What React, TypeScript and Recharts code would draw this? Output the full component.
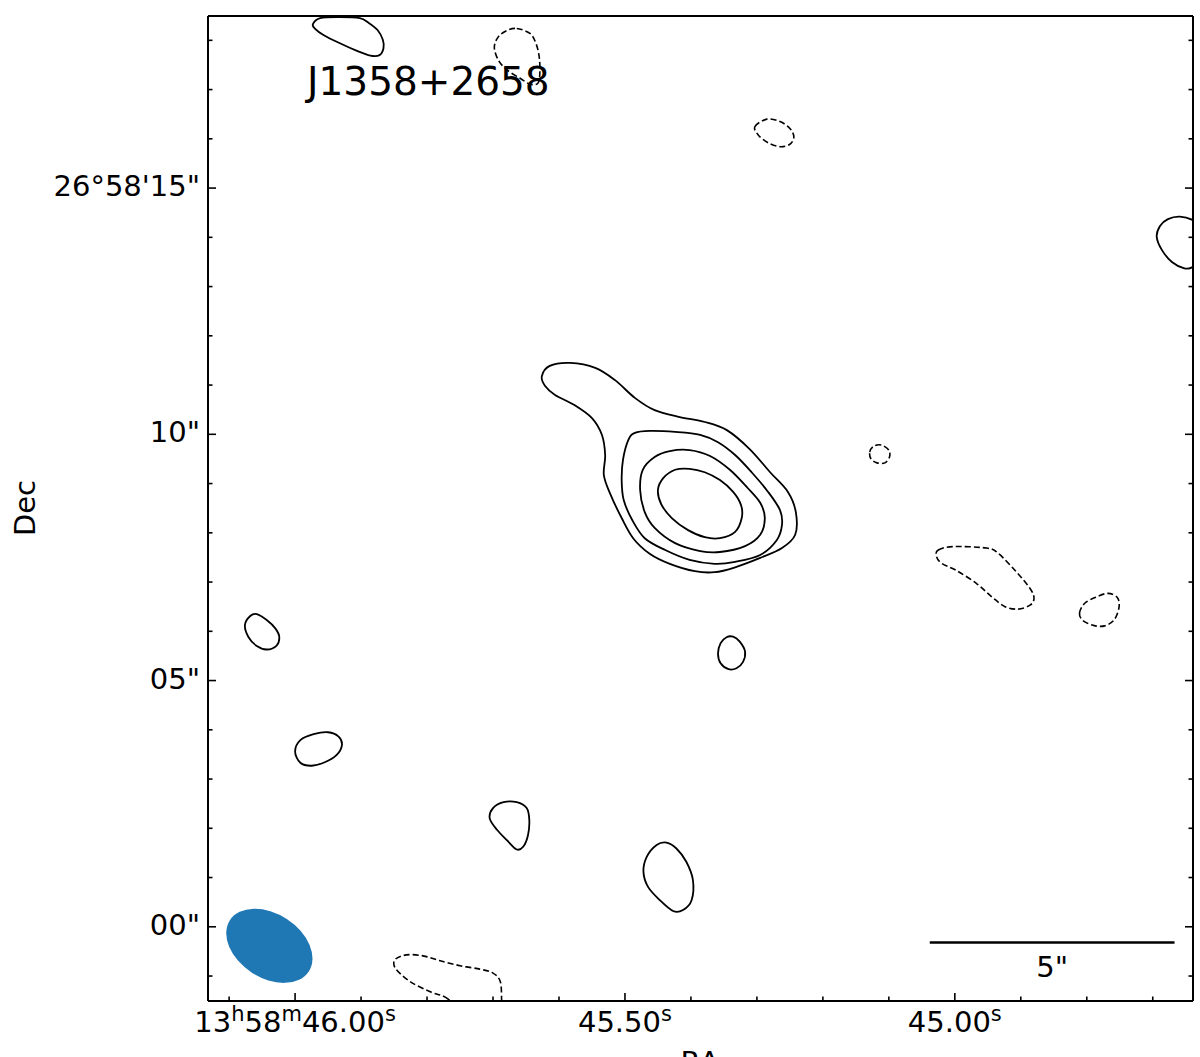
import { ComposedChart, Line, XAxis, YAxis, Scatter, ReferenceLine } from "recharts";

// axis ranges: RA in seconds of time (13h58m..), Dec in arcsec past 26°58'
const RA_DOMAIN = [44.639, 46.132];
const DEC_DOMAIN = [-1.507, 18.494];

const RA_MAJOR = [46.0, 45.5, 45.0];
const RA_MINOR = [46.1, 45.9, 45.8, 45.7, 45.6, 45.4, 45.3, 45.2, 45.1, 44.9, 44.8, 44.7];
const RA_LABELS = [
  ["13", "h", "58", "m", "46.00", "s"],
  ["45.50", "s"],
  ["45.00", "s"],
];

const DEC_MAJOR = [0, 5, 10, 15];
const DEC_MINOR = [-1, 1, 2, 3, 4, 6, 7, 8, 9, 11, 12, 13, 14, 16, 17, 18];
const DEC_LABELS = ['00"', '05"', '10"', "26°58'15\""];

// contours, [ra, dec] — positive levels solid, negative dashed
const CORE_1 = [
  [45.626, 11.18], [45.614, 11.39], [45.583, 11.45], [45.545, 11.35], [45.515, 11.1],
  [45.485, 10.74], [45.455, 10.49], [45.417, 10.35], [45.379, 10.25], [45.345, 10.08],
  [45.311, 9.7], [45.28, 9.23], [45.253, 8.83], [45.241, 8.42], [45.242, 7.96],
  [45.262, 7.69], [45.295, 7.49], [45.333, 7.3], [45.364, 7.2], [45.394, 7.22],
  [45.432, 7.37], [45.462, 7.57], [45.487, 7.88], [45.505, 8.3], [45.522, 8.78],
  [45.532, 9.17], [45.53, 9.58], [45.535, 9.99], [45.55, 10.33], [45.576, 10.59],
  [45.606, 10.8], [45.621, 10.98],
];
const CORE_2 = [
  [45.495, 9.88], [45.485, 10.03], [45.462, 10.07], [45.424, 10.05], [45.386, 9.99],
  [45.359, 9.84], [45.333, 9.58], [45.308, 9.23], [45.283, 8.83], [45.265, 8.46],
  [45.262, 8.16], [45.27, 7.85], [45.295, 7.55], [45.333, 7.41], [45.364, 7.37],
  [45.402, 7.45], [45.439, 7.65], [45.47, 7.89], [45.489, 8.26], [45.502, 8.67],
  [45.505, 9.07], [45.503, 9.48],
];
const CORE_3 = [
  [45.477, 8.87], [45.473, 9.28], [45.455, 9.54], [45.432, 9.66], [45.402, 9.68],
  [45.371, 9.56], [45.341, 9.28], [45.314, 8.91], [45.295, 8.61], [45.288, 8.3],
  [45.295, 7.96], [45.318, 7.73], [45.356, 7.61], [45.386, 7.63], [45.424, 7.79],
  [45.455, 8.1], [45.47, 8.42],
];
const CORE_4 = [
  [45.45, 8.87], [45.442, 9.11], [45.424, 9.28], [45.402, 9.3], [45.379, 9.23],
  [45.356, 9.07], [45.336, 8.83], [45.324, 8.56], [45.323, 8.3], [45.333, 8.02],
  [45.356, 7.89], [45.379, 7.91], [45.405, 8.06], [45.429, 8.3], [45.445, 8.58],
];

const BLOB_TOP = [
  [45.973, 18.33], [45.97, 18.24], [45.957, 18.11], [45.932, 17.94], [45.907, 17.79],
  [45.886, 17.69], [45.872, 17.7], [45.866, 17.84], [45.867, 18.01], [45.875, 18.21],
  [45.889, 18.36], [45.902, 18.45], [45.932, 18.47], [45.962, 18.45],
];
const BLOB_EDGE = [
  [44.659, 14.42], [44.639, 14.35], [44.629, 14.23], [44.624, 13.95], [44.629, 13.58],
  [44.639, 13.4], [44.652, 13.37], [44.671, 13.5], [44.686, 13.74], [44.694, 14.01],
  [44.689, 14.23], [44.677, 14.37],
];
const BLOB_H = [
  [46.076, 6.13], [46.068, 6.31], [46.058, 6.35], [46.043, 6.23], [46.03, 6.06],
  [46.024, 5.89], [46.028, 5.71], [46.043, 5.63], [46.058, 5.7], [46.071, 5.89],
];
const BLOB_I = [
  [46.0, 3.56], [45.992, 3.79], [45.972, 3.91], [45.95, 3.95], [45.934, 3.86],
  [45.929, 3.69], [45.937, 3.49], [45.955, 3.34], [45.975, 3.27], [45.992, 3.33],
];
const BLOB_J = [
  [45.705, 2.2], [45.7, 2.41], [45.684, 2.53], [45.664, 2.53], [45.649, 2.41],
  [45.645, 2.17], [45.647, 1.86], [45.654, 1.63], [45.664, 1.57], [45.679, 1.76],
  [45.694, 1.97],
];
const BLOB_K = [
  [45.472, 1.12], [45.467, 1.42], [45.452, 1.66], [45.437, 1.71], [45.422, 1.59],
  [45.407, 1.32], [45.397, 0.95], [45.399, 0.54], [45.412, 0.34], [45.427, 0.32],
  [45.447, 0.54], [45.465, 0.81],
];
const BLOB_M = [
  [45.359, 5.55], [45.355, 5.76], [45.346, 5.88], [45.336, 5.89], [45.326, 5.79],
  [45.318, 5.59], [45.321, 5.38], [45.331, 5.25], [45.343, 5.23], [45.355, 5.35],
];

const NEG_B = [
  [45.664, 18.24], [45.644, 18.14], [45.635, 17.94], [45.63, 17.67], [45.629, 17.34],
  [45.632, 17.13], [45.644, 17.11], [45.659, 17.23], [45.679, 17.4], [45.692, 17.6],
  [45.698, 17.86], [45.692, 18.07], [45.679, 18.2],
];
const NEG_C = [
  [45.303, 16.25], [45.285, 16.4], [45.265, 16.35], [45.25, 16.21], [45.244, 16.04],
  [45.25, 15.89], [45.265, 15.84], [45.283, 15.92], [45.298, 16.08],
];
const NEG_D = [
  [45.129, 9.64], [45.123, 9.76], [45.111, 9.78], [45.1, 9.68], [45.099, 9.54],
  [45.106, 9.42], [45.118, 9.42], [45.127, 9.5],
];
const NEG_F = [
  [45.025, 7.65], [45.003, 7.72], [44.952, 7.69], [44.934, 7.58], [44.907, 7.21],
  [44.886, 6.87], [44.88, 6.67], [44.886, 6.53], [44.904, 6.45], [44.924, 6.5],
  [44.944, 6.7], [44.967, 6.97], [44.997, 7.23], [45.02, 7.38], [45.028, 7.53],
];
const NEG_G = [
  [44.811, 6.37], [44.803, 6.57], [44.785, 6.7], [44.768, 6.77], [44.754, 6.69],
  [44.751, 6.5], [44.758, 6.24], [44.773, 6.11], [44.79, 6.12], [44.806, 6.22],
];
const NEG_L = [
  [45.768, -1.47], [45.795, -1.32], [45.826, -1.11], [45.848, -0.84], [45.848, -0.66],
  [45.831, -0.57], [45.806, -0.59], [45.78, -0.69], [45.75, -0.79], [45.72, -0.86],
  [45.7, -0.94], [45.689, -1.11], [45.687, -1.47], [45.687, -1.8], [45.74, -1.9],
];

const POSITIVE = [CORE_1, CORE_2, CORE_3, CORE_4, BLOB_TOP, BLOB_EDGE, BLOB_H, BLOB_I, BLOB_J, BLOB_K, BLOB_M];
const NEGATIVE = [NEG_B, NEG_C, NEG_D, NEG_F, NEG_G, NEG_L];

const BEAM = [{ ra: 46.039, dec: -0.386 }];
const SCALE_BAR = [{ x: 45.038, y: -0.32 }, { x: 44.667, y: -0.32 }];

const FONT = "DejaVu Sans";
const toPoints = (c: number[][]) => c.map(([ra, dec]) => ({ ra, dec }));

// closed catmull-rom so the contours come out smooth
const smoothClosed = (context: any) => {
  let pts: number[][] = [];
  return {
    areaStart() {},
    areaEnd() {},
    lineStart() {
      pts = [];
    },
    point(x: number, y: number) {
      pts.push([+x, +y]);
    },
    lineEnd() {
      const n = pts.length;
      if (!n) return;
      context.moveTo(pts[0][0], pts[0][1]);
      for (let i = 0; i < n; i++) {
        const p0 = pts[(i - 1 + n) % n];
        const p1 = pts[i];
        const p2 = pts[(i + 1) % n];
        const p3 = pts[(i + 2) % n];
        context.bezierCurveTo(
          p1[0] + (p2[0] - p0[0]) / 6, p1[1] + (p2[1] - p0[1]) / 6,
          p2[0] - (p3[0] - p1[0]) / 6, p2[1] - (p3[1] - p1[1]) / 6,
          p2[0], p2[1]
        );
      }
      context.closePath();
    },
  };
};

const isMajor = (v: number, majors: number[]) => majors.some((m) => Math.abs(m - v) < 1e-6);

function RaTick(props: any) {
  const { x, y, payload, side } = props;
  const v = payload.value;
  const major = isMajor(v, RA_MAJOR);
  const len = major ? 8 : 4.5;
  const dir = side === "bottom" ? -1 : 1;
  const parts = major ? RA_LABELS[RA_MAJOR.findIndex((m) => Math.abs(m - v) < 1e-6)] : null;
  return (
    <g>
      <line x1={x} x2={x} y1={y} y2={y + dir * len} stroke="#000" strokeWidth={1.6} />
      {side === "bottom" && parts && (
        <text x={x} y={y + 31} textAnchor="middle" fontSize={29} fontFamily={FONT} fill="#000">
          {parts.map((p, i) =>
            i % 2 === 0 ? (
              <tspan key={i} dy={i === 0 ? 0 : 11} fontSize={29}>{p}</tspan>
            ) : (
              <tspan key={i} dy={-11} fontSize={21}>{p}</tspan>
            )
          )}
        </text>
      )}
    </g>
  );
}

function DecTick(props: any) {
  const { x, y, payload, side } = props;
  const v = payload.value;
  const idx = DEC_MAJOR.findIndex((m) => Math.abs(m - v) < 1e-6);
  const len = idx >= 0 ? 8 : 4.5;
  const dir = side === "left" ? 1 : -1;
  return (
    <g>
      <line x1={x} x2={x + dir * len} y1={y} y2={y} stroke="#000" strokeWidth={1.6} />
      {side === "left" && idx >= 0 && (
        <text x={x - 8} y={y + 8} textAnchor="end" fontSize={29} fontFamily={FONT} fill="#000">
          {DEC_LABELS[idx]}
        </text>
      )}
    </g>
  );
}

const axisLine = { stroke: "#000", strokeWidth: 2 };
const raTicks = [...RA_MAJOR, ...RA_MINOR];
const decTicks = [...DEC_MAJOR, ...DEC_MINOR];

export default function App() {
  return (
    <div style={{ position: "absolute", left: 0, top: 0, background: "#fff" }}>
      <ComposedChart width={1200} height={1057} margin={{ top: 15, right: 6, bottom: 55, left: 207 }}>
        <XAxis
          dataKey="ra"
          type="number"
          domain={RA_DOMAIN}
          reversed
          allowDataOverflow
          orientation="bottom"
          height={1}
          ticks={raTicks}
          interval={0}
          tickSize={0}
          tickMargin={0}
          tickLine={false}
          axisLine={axisLine}
          tick={(p: any) => <RaTick {...p} side="bottom" />}
        />
        <XAxis
          xAxisId="top"
          type="number"
          domain={RA_DOMAIN}
          reversed
          allowDataOverflow
          orientation="top"
          height={1}
          ticks={raTicks}
          interval={0}
          tickSize={0}
          tickMargin={0}
          tickLine={false}
          axisLine={axisLine}
          tick={(p: any) => <RaTick {...p} side="top" />}
        />
        <YAxis
          dataKey="dec"
          type="number"
          domain={DEC_DOMAIN}
          allowDataOverflow
          orientation="left"
          width={1}
          ticks={decTicks}
          interval={0}
          tickSize={0}
          tickMargin={0}
          tickLine={false}
          axisLine={axisLine}
          tick={(p: any) => <DecTick {...p} side="left" />}
        />
        <YAxis
          yAxisId="right"
          type="number"
          domain={DEC_DOMAIN}
          allowDataOverflow
          orientation="right"
          width={1}
          ticks={decTicks}
          interval={0}
          tickSize={0}
          tickMargin={0}
          tickLine={false}
          axisLine={axisLine}
          tick={(p: any) => <DecTick {...p} side="right" />}
        />

        {POSITIVE.map((c, i) => (
          <Line
            key={`pos-${i}`}
            data={toPoints(c)}
            dataKey="dec"
            type={smoothClosed as any}
            stroke="#000"
            strokeWidth={1.8}
            dot={false}
            activeDot={false}
            isAnimationActive={false}
          />
        ))}
        {NEGATIVE.map((c, i) => (
          <Line
            key={`neg-${i}`}
            data={toPoints(c)}
            dataKey="dec"
            type={smoothClosed as any}
            stroke="#000"
            strokeWidth={1.6}
            strokeDasharray="6 3"
            dot={false}
            activeDot={false}
            isAnimationActive={false}
          />
        ))}

        <Scatter
          data={BEAM}
          dataKey="dec"
          isAnimationActive={false}
          shape={(p: any) => (
            <ellipse
              cx={p.cx}
              cy={p.cy}
              rx={47}
              ry={32}
              transform={`rotate(33 ${p.cx} ${p.cy})`}
              fill="#1f77b4"
            />
          )}
        />

        <ReferenceLine
          segment={SCALE_BAR}
          stroke="#000"
          strokeWidth={2.5}
          label={{ value: '5"', position: "bottom", offset: 14, fill: "#000", fontSize: 29, fontFamily: FONT }}
        />

        <text x={307} y={95} fontSize={39} fontFamily={FONT} fill="#000">
          J1358+2658
        </text>
        <text
          x={35}
          y={508}
          fontSize={29}
          fontFamily={FONT}
          fill="#000"
          textAnchor="middle"
          transform="rotate(-90 35 508)"
        >
          Dec
        </text>
        <text x={700} y={1072} fontSize={29} fontFamily={FONT} fill="#000" textAnchor="middle">
          RA
        </text>
      </ComposedChart>
    </div>
  );
}
